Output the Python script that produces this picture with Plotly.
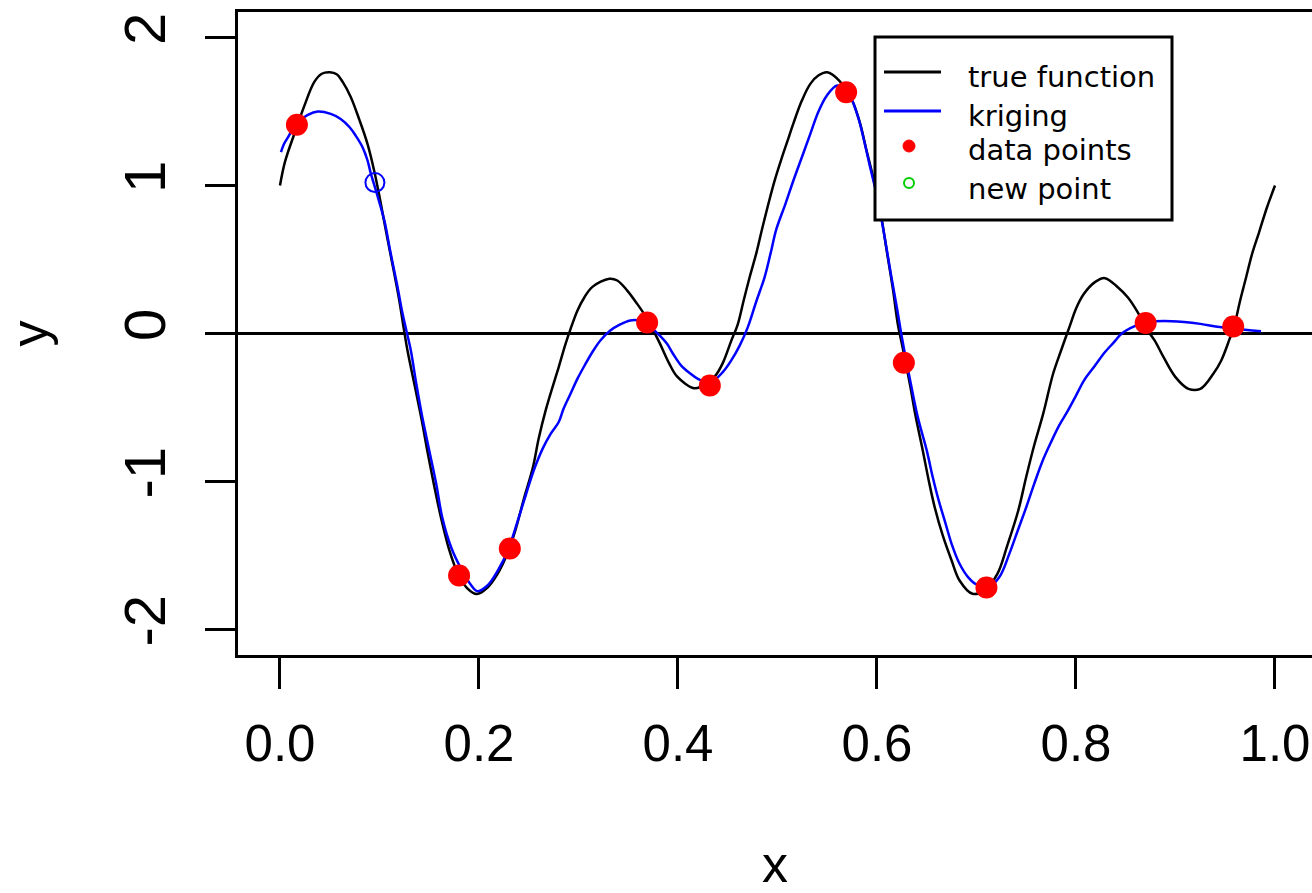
import plotly.graph_objects as go

# ---------------- data ----------------
true_x = [0.000, 0.005, 0.015, 0.024, 0.0345, 0.042, 0.050, 0.057, 0.063, 0.071,
          0.080, 0.088, 0.095, 0.101, 0.108, 0.115, 0.120, 0.124, 0.128, 0.135,
          0.142, 0.148, 0.155, 0.162, 0.170, 0.178, 0.188, 0.198, 0.208, 0.219,
          0.229, 0.237, 0.245, 0.254, 0.260, 0.267, 0.274, 0.280, 0.287, 0.292,
          0.299, 0.306, 0.314, 0.331, 0.339, 0.349, 0.359, 0.369, 0.376, 0.382,
          0.391, 0.399, 0.416, 0.424, 0.437, 0.445, 0.4535, 0.460, 0.466, 0.472,
          0.479, 0.485, 0.491, 0.497, 0.504, 0.510, 0.516, 0.5245, 0.533, 0.541,
          0.550, 0.562, 0.575, 0.583, 0.589, 0.596, 0.604, 0.610, 0.616, 0.621,
          0.625, 0.633, 0.639, 0.646, 0.652, 0.658, 0.666, 0.675, 0.683, 0.696,
          0.708, 0.721, 0.731, 0.742, 0.750, 0.758, 0.767, 0.777, 0.785, 0.794,
          0.800, 0.808, 0.819, 0.829, 0.842, 0.852, 0.863, 0.871, 0.879, 0.888,
          0.900, 0.913, 0.925, 0.938, 0.946, 0.9545, 0.9586, 0.965, 0.971, 0.977,
          0.984, 0.992, 1.000]
true_y = [1.00, 1.16, 1.36, 1.53, 1.70, 1.755, 1.765, 1.752, 1.70, 1.60,
          1.44, 1.28, 1.09, 0.89, 0.64, 0.40, 0.22, 0.05, -0.11, -0.34,
          -0.57, -0.79, -1.03, -1.25, -1.46, -1.61, -1.72, -1.76, -1.72, -1.62,
          -1.48, -1.32, -1.12, -0.91, -0.71, -0.52, -0.36, -0.23, -0.07, 0.03,
          0.155, 0.245, 0.315, 0.37, 0.358, 0.29, 0.20, 0.10, 0.01, -0.07,
          -0.2, -0.29, -0.37, -0.355, -0.29, -0.2, -0.05, 0.06, 0.223, 0.38,
          0.55, 0.72, 0.88, 1.03, 1.18, 1.30, 1.42, 1.574, 1.687, 1.743,
          1.765, 1.709, 1.574, 1.42, 1.25, 1.06, 0.80, 0.55, 0.30, 0.06,
          -0.07, -0.34, -0.565, -0.79, -0.993, -1.174, -1.363, -1.534, -1.669, -1.759,
          -1.736, -1.624, -1.431, -1.196, -0.968, -0.755, -0.543, -0.272, -0.115, 0.055,
          0.168, 0.268, 0.347, 0.374, 0.313, 0.245, 0.133, 0.03, -0.047, -0.16,
          -0.295, -0.374, -0.374, -0.272, -0.182, -0.035, 0.04, 0.223, 0.38, 0.538,
          0.684, 0.853, 1.00]

krig_x = [0.001, 0.004, 0.008, 0.011, 0.018, 0.028, 0.038, 0.051, 0.061, 0.070,
          0.076, 0.083, 0.088, 0.091, 0.098, 0.105, 0.111, 0.118, 0.123, 0.127,
          0.1315, 0.137, 0.143, 0.150, 0.157, 0.163, 0.172, 0.182, 0.192, 0.1985,
          0.2085, 0.219, 0.229, 0.239, 0.247, 0.255, 0.264, 0.272, 0.280, 0.285,
          0.292, 0.299, 0.306, 0.314, 0.322, 0.332, 0.341, 0.352, 0.362, 0.3725,
          0.3825, 0.389, 0.395, 0.403, 0.412, 0.420, 0.433, 0.445, 0.4535, 0.462,
          0.470, 0.4785, 0.487, 0.493, 0.499, 0.508, 0.516, 0.5245, 0.533, 0.541,
          0.5495, 0.560, 0.570, 0.581, 0.587, 0.593, 0.600, 0.606, 0.614, 0.6205,
          0.625, 0.634, 0.641, 0.650, 0.656, 0.662, 0.6685, 0.675, 0.683, 0.6915,
          0.700, 0.712, 0.723, 0.733, 0.7415, 0.750, 0.758, 0.7666, 0.775, 0.783,
          0.792, 0.800, 0.808, 0.819, 0.829, 0.838, 0.846, 0.8585, 0.871, 0.896,
          0.925, 0.942, 0.959, 0.986]
krig_y = [1.225, 1.28, 1.326, 1.36, 1.428, 1.478, 1.50, 1.484, 1.45, 1.394,
          1.338, 1.259, 1.169, 1.089, 0.93, 0.76, 0.55, 0.32, 0.14, 0.02,
          -0.115, -0.34, -0.565, -0.79, -1.016, -1.24, -1.444, -1.589, -1.70, -1.741,
          -1.703, -1.601, -1.466, -1.264, -1.093, -0.926, -0.778, -0.678, -0.60, -0.508,
          -0.407, -0.305, -0.218, -0.125, -0.047, 0.02, 0.058, 0.088, 0.085, 0.043,
          -0.02, -0.07, -0.137, -0.215, -0.268, -0.306, -0.329, -0.261, -0.182, -0.082,
          0.04, 0.213, 0.38, 0.54, 0.708, 0.876, 1.034, 1.191, 1.349, 1.497,
          1.607, 1.676, 1.642, 1.462, 1.304, 1.127, 0.93, 0.718, 0.40, 0.155,
          -0.025, -0.34, -0.565, -0.79, -0.97, -1.128, -1.274, -1.421, -1.556, -1.646,
          -1.696, -1.714, -1.646, -1.489, -1.331, -1.174, -1.016, -0.858, -0.733, -0.623,
          -0.52, -0.42, -0.318, -0.218, -0.127, -0.06, 0.0, 0.048, 0.076, 0.083,
          0.065, 0.045, 0.032, 0.015]

data_x = [0.017, 0.180, 0.231, 0.369, 0.432, 0.569, 0.627, 0.710, 0.870, 0.958]
data_y = [1.41, -1.635, -1.453, 0.074, -0.351, 1.630, -0.198, -1.716, 0.071, 0.047]

new_x = [0.0954]
new_y = [1.02]

x_ticks = [0.0, 0.2, 0.4, 0.6, 0.8, 1.0]
x_tick_labels = ["0.0", "0.2", "0.4", "0.6", "0.8", "1.0"]
y_ticks = [-2, -1, 0, 1, 2]
y_tick_labels = ["-2", "-1", "0", "1", "2"]

legend_labels = ["true function", "kriging", "data points", "new point"]

# ---------------- figure ----------------
W, H = 1312, 893
ML, MR, MT, MB = 238, 0, 12, 238
PW, PH = W - ML - MR, H - MT - MB
FONT = "Liberation Sans, Arial, sans-serif"
LFONT = "DejaVu Sans, sans-serif"


def px(xp):
    return (xp - ML) / PW


def py(yp):
    return (H - MB - yp) / PH


fig = go.Figure()
fig.add_trace(go.Scatter(x=true_x, y=true_y, mode="lines", name=legend_labels[0],
                         line=dict(color="black", width=2.5, shape="spline", smoothing=1.0),
                         showlegend=False, hoverinfo="skip"))
fig.add_trace(go.Scatter(x=krig_x, y=krig_y, mode="lines", name=legend_labels[1],
                         line=dict(color="#0000FF", width=2.5, shape="spline", smoothing=1.0),
                         showlegend=False, hoverinfo="skip"))
fig.add_trace(go.Scatter(x=data_x, y=data_y, mode="markers", name=legend_labels[2],
                         marker=dict(color="#FF0000", size=22, line=dict(width=0)),
                         showlegend=False))
fig.add_trace(go.Scatter(x=new_x, y=new_y, mode="markers", name=legend_labels[3],
                         marker=dict(symbol="circle-open", color="#0000FF", size=19,
                                     line=dict(width=2, color="#0000FF")),
                         showlegend=False))

# ---------------- manual legend (R style) ----------------
shapes = []
annotations = []
shapes.append(dict(type="rect", xref="paper", yref="paper",
                   x0=px(875), x1=px(1172), y0=py(220), y1=py(37),
                   line=dict(color="black", width=3), fillcolor="white", layer="above"))
row_y = [72, 111, 146, 183]
shapes.append(dict(type="line", xref="paper", yref="paper", x0=px(884), x1=px(941),
                   y0=py(row_y[0]), y1=py(row_y[0]), line=dict(color="black", width=3),
                   layer="above"))
shapes.append(dict(type="line", xref="paper", yref="paper", x0=px(884), x1=px(941),
                   y0=py(row_y[1]), y1=py(row_y[1]), line=dict(color="#0000FF", width=3),
                   layer="above"))
shapes.append(dict(type="circle", xref="paper", yref="paper",
                   xsizemode="pixel", ysizemode="pixel",
                   xanchor=px(909), yanchor=py(row_y[2]), x0=-6, x1=6, y0=-6, y1=6,
                   fillcolor="#FF0000", line=dict(color="#FF0000", width=1), layer="above"))
shapes.append(dict(type="circle", xref="paper", yref="paper",
                   xsizemode="pixel", ysizemode="pixel",
                   xanchor=px(909), yanchor=py(row_y[3]), x0=-5, x1=5, y0=-5, y1=5,
                   fillcolor="rgba(0,0,0,0)", line=dict(color="#00CD00", width=2),
                   layer="above"))
text_y = [77, 116, 150, 189]
for lab, ty in zip(legend_labels, text_y):
    annotations.append(dict(text=lab, xref="paper", yref="paper", x=px(966), y=py(ty),
                            xanchor="left", yanchor="middle", showarrow=False,
                            font=dict(family=LFONT, size=29, color="black")))

fig.update_layout(
    width=W, height=H,
    margin=dict(l=ML, r=MR, t=MT, b=MB, autoexpand=False),
    paper_bgcolor="white", plot_bgcolor="white",
    font=dict(family=FONT, color="black"),
    showlegend=False,
    shapes=shapes,
    annotations=annotations,
    xaxis=dict(range=[-0.0422, 1.0372], tickmode="array", tickvals=x_ticks,
               ticktext=x_tick_labels, ticks="outside", ticklen=31, tickwidth=2.5,
               tickcolor="black", showline=True, linecolor="black", linewidth=3,
               mirror=True, showgrid=False, zeroline=False, automargin=False,
               tickfont=dict(family=FONT, size=51, color="black"),
               ticklabelstandoff=11,
               title=dict(text="x", font=dict(family=FONT, size=52, color="black"),
                          standoff=89)),
    yaxis=dict(range=[-2.1725, 2.1725], tickmode="array", tickvals=y_ticks,
               ticktext=y_tick_labels, ticks="outside", ticklen=30, tickwidth=2.5,
               tickcolor="black", showline=True, linecolor="black", linewidth=3,
               mirror=False, showgrid=False, zeroline=True, zerolinecolor="black",
               zerolinewidth=3, automargin=False, tickangle=-90,
               tickfont=dict(family=FONT, size=58, color="black"),
               ticklabelstandoff=17,
               title=dict(text="y", font=dict(family=FONT, size=52, color="black"),
                          standoff=68)),
)

fig.write_html("out.html")
